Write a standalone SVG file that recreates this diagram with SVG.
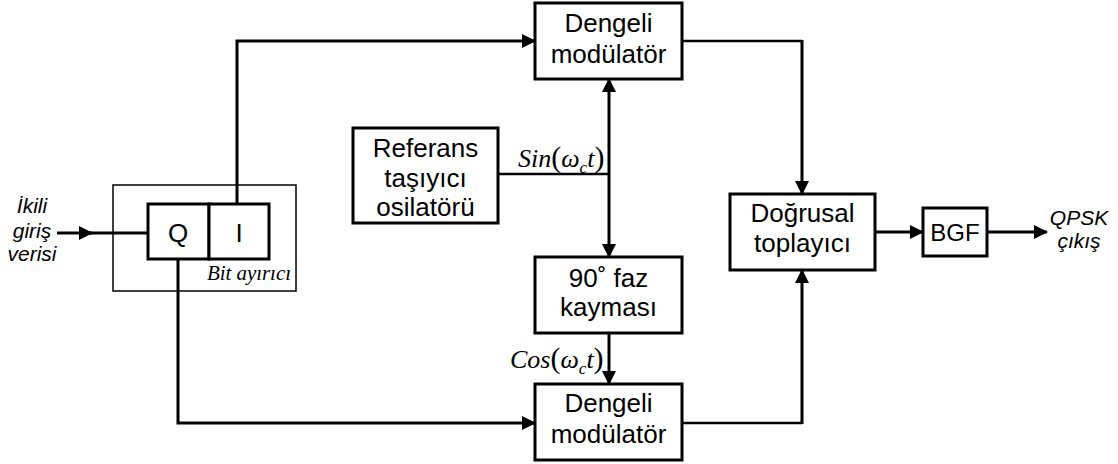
<svg xmlns="http://www.w3.org/2000/svg" width="1118" height="464" viewBox="0 0 1118 464">
<style>
.box{fill:#fff;stroke:#000;stroke-width:3}
.thin{fill:none;stroke:#000;stroke-width:1.5}
.t{font-family:"Liberation Sans",Arial,sans-serif;font-size:26px;fill:#000;text-anchor:middle}
.it{font-family:"Liberation Sans",Arial,sans-serif;font-style:italic;font-size:21px;fill:#000;text-anchor:middle}
.m{font-family:"Liberation Serif","Times New Roman",serif;font-style:italic;font-size:26px;fill:#000}
.c{fill:none;stroke:#000;stroke-width:3}
.c2{fill:none;stroke:#000;stroke-width:2.5}
</style>
<defs>
<marker id="ah" markerUnits="userSpaceOnUse" markerWidth="16" markerHeight="14" refX="13" refY="7" orient="auto">
<path d="M0,0 L14,7 L0,14 Z" fill="#000"/>
</marker>
</defs>
<g id="connectors">
<path class="c" d="M57,233 H92" marker-end="url(#ah)"/>
<path class="c" d="M90,233 H148"/>
<path class="c" d="M237,204 V41 H535" marker-end="url(#ah)"/>
<path class="c" d="M178,259 V423 H535" marker-end="url(#ah)"/>
<path class="c2" d="M682,41 H802"/>
<path class="c" d="M802,40 V194" marker-end="url(#ah)"/>
<path class="c2" d="M682,423 H802"/>
<path class="c" d="M802,424 V270" marker-end="url(#ah)"/>
<path class="c2" d="M498,174 H609"/>
<path class="c" d="M609,174 V79" marker-end="url(#ah)"/>
<path class="c" d="M609,174 V257" marker-end="url(#ah)"/>
<path class="c" d="M609,333 V384" marker-end="url(#ah)"/>
<path class="c" d="M875,232 H923" marker-end="url(#ah)"/>
<path class="c" d="M987,232 H1047" marker-end="url(#ah)"/>
</g>
<g id="input-label">
<text class="it" x="32" y="213">İkili</text>
<text class="it" x="32" y="238">giriş</text>
<text class="it" x="32" y="261">verisi</text>
</g>
<g id="bit-ayirici">
<rect class="thin" x="113" y="185" width="183" height="106"/>
<rect class="box" x="148" y="204" width="61" height="55"/>
<rect class="box" x="209" y="204" width="60" height="55"/>
<text class="t" x="178" y="242">Q</text>
<text class="t" x="239" y="242">I</text>
<text class="m" x="207" y="280" style="font-size:21px" textLength="84" lengthAdjust="spacing">Bit ayırıcı</text>
</g>
<g id="dengeli-top">
<rect class="box" x="535" y="3" width="147" height="76"/>
<text class="t" x="608.5" y="32">Dengeli</text>
<text class="t" x="608.5" y="63">modülatör</text>
</g>
<g id="referans">
<rect class="box" x="353" y="128" width="145" height="95"/>
<text class="t" x="425.5" y="157">Referans</text>
<text class="t" x="425.5" y="187">taşıyıcı</text>
<text class="t" x="425.5" y="216">osilatörü</text>
</g>
<g id="sin-label">
<text class="m" x="518" y="167">Sin<tspan font-style="normal" font-size="30">(</tspan>ω<tspan font-size="17" dy="6">c</tspan><tspan dy="-6">t</tspan><tspan font-style="normal" font-size="30">)</tspan></text>
</g>
<g id="faz">
<rect class="box" x="535" y="257" width="147" height="76"/>
<text class="t" x="608.5" y="287">90˚ faz</text>
<text class="t" x="608.5" y="316">kayması</text>
</g>
<g id="cos-label">
<text class="m" x="510" y="368">Cos<tspan font-style="normal" font-size="30">(</tspan>ω<tspan font-size="17" dy="6">c</tspan><tspan dy="-6">t</tspan><tspan font-style="normal" font-size="30">)</tspan></text>
</g>
<g id="dengeli-bottom">
<rect class="box" x="535" y="384" width="147" height="76"/>
<text class="t" x="608.5" y="412">Dengeli</text>
<text class="t" x="608.5" y="443">modülatör</text>
</g>
<g id="toplayici">
<rect class="box" x="730" y="194" width="145" height="76"/>
<text class="t" x="802.5" y="222">Doğrusal</text>
<text class="t" x="802.5" y="252">toplayıcı</text>
</g>
<g id="bgf">
<rect class="box" x="923" y="208" width="64" height="48"/>
<text class="t" x="955" y="241" style="font-size:24px">BGF</text>
</g>
<g id="output-label">
<text class="it" x="1079" y="225">QPSK</text>
<text class="it" x="1079" y="248">çıkış</text>
</g>
</svg>
